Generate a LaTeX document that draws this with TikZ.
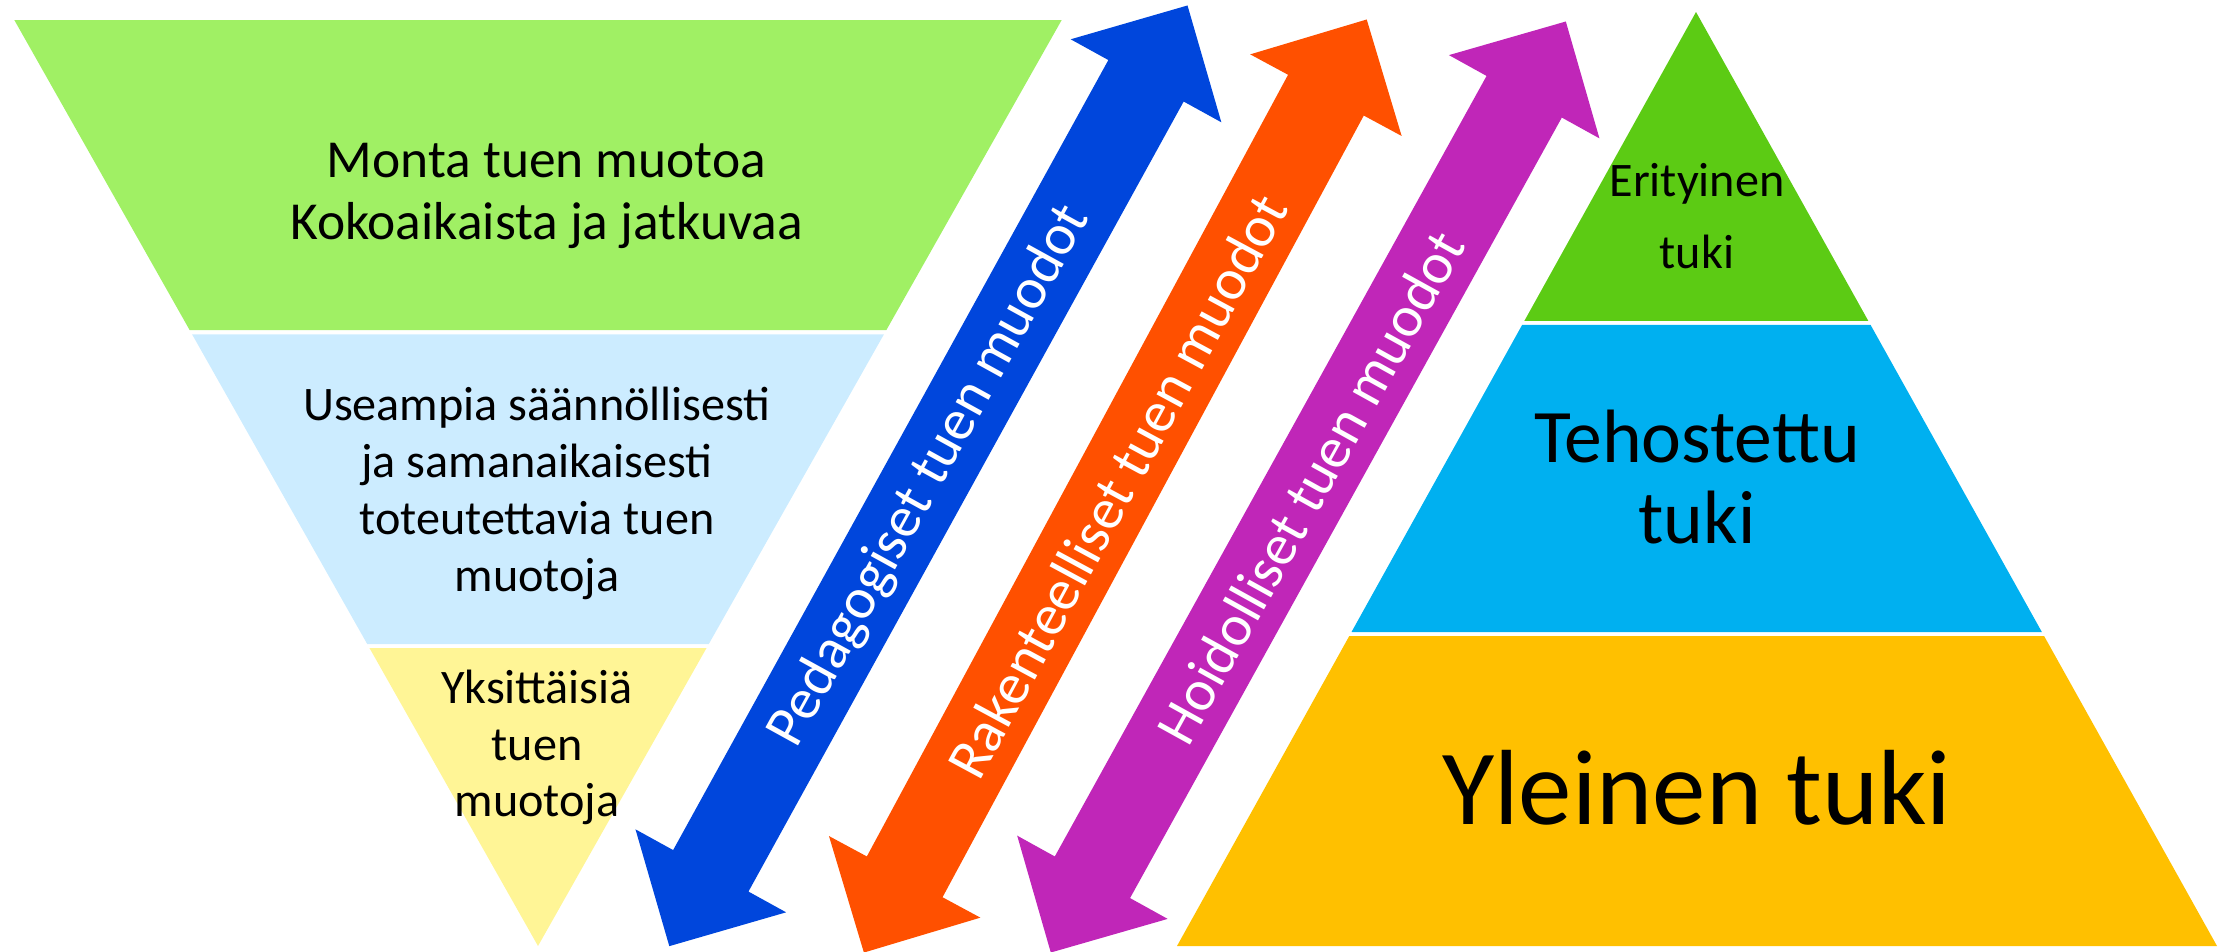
\documentclass[tikz,border=0pt]{standalone}
\usepackage{fontspec}
\setmainfont{Carlito}
\usetikzlibrary{calc}
\definecolor{lgreen}{RGB}{160,240,100}
\definecolor{lblue}{RGB}{204,236,255}
\definecolor{lyellow}{RGB}{255,245,150}
\definecolor{ablue}{RGB}{0,70,220}
\definecolor{aorange}{RGB}{255,80,0}
\definecolor{apurple}{RGB}{192,38,184}
\definecolor{pgreen}{RGB}{92,203,20}
\definecolor{pblue}{RGB}{0,176,240}
\definecolor{porange}{RGB}{255,192,0}
\newcommand{\DArrow}[4]{%
  \begin{scope}[shift={#1}, rotate=#2]
    \fill[#4] (#3,0) -- ({#3-86},86) -- ({#3-86},43) -- ({-#3+86},43) -- ({-#3+86},86)
      -- (-#3,0) -- ({-#3+86},-86) -- ({-#3+86},-43) -- ({#3-86},-43) -- ({#3-86},-86) -- cycle;
  \end{scope}}
\tikzset{
  txt/.style={anchor=base, inner sep=0pt, text=black},
  small/.style={txt, font=\fontsize{13.7pt}{16pt}\selectfont},
  mid/.style={txt, font=\fontsize{15.2pt}{18pt}\selectfont},
  big/.style={txt, font=\fontsize{21.5pt}{25pt}\selectfont},
  huge/.style={txt, font=\fontsize{30.4pt}{36pt}\selectfont},
  lbl/.style={inner sep=0pt, text=white, font=\fontsize{16.5pt}{20pt}\selectfont},
}
\begin{document}
\begin{tikzpicture}[x=0.01cm, y=-0.01cm]
\useasboundingbox (0,0) rectangle (2221,951);
% inverted triangle
\coordinate (TL) at (14.3,20);
\coordinate (TR) at (1061.7,20);
\coordinate (AP) at (538,946);
\fill[lgreen] (TL) -- (TR) -- ($(TR)!0.3348!(AP)$) -- ($(TL)!0.3348!(AP)$) -- cycle;
\fill[lblue] ($(TL)!0.3396!(AP)$) -- ($(TR)!0.3396!(AP)$) -- ($(TR)!0.6739!(AP)$) -- ($(TL)!0.6739!(AP)$) -- cycle;
\fill[lyellow] ($(TL)!0.6782!(AP)$) -- ($(TR)!0.6782!(AP)$) -- (AP) -- cycle;
% pyramid
\coordinate (PA) at (1696,12);
\coordinate (BL) at (1177,946);
\coordinate (BR) at (2217,946);
\fill[pgreen] (PA) -- ($(PA)!0.3308!(BR)$) -- ($(PA)!0.3308!(BL)$) -- cycle;
\fill[pblue] ($(PA)!0.3351!(BL)$) -- ($(PA)!0.3351!(BR)$) -- ($(PA)!0.6638!(BR)$) -- ($(PA)!0.6638!(BL)$) -- cycle;
\fill[porange] ($(PA)!0.6681!(BL)$) -- ($(PA)!0.6681!(BR)$) -- (BR) -- (BL) -- cycle;
% arrows
\DArrow{(928.4,475.8)}{61.15}{537}{ablue}
\DArrow{(1115.3,486.0)}{61.68}{530}{aorange}
\DArrow{(1308.3,487.0)}{61.05}{532}{apurple}
\node[lbl, rotate=61.15] (ped) at (930,476) {Pedagogiset tuen muodot};
\node[lbl, rotate=61.68] (rak) at (1117,486) {Rakenteelliset tuen muodot};
\node[lbl, rotate=61.05] (hoi) at (1310,487) {Hoidolliset tuen muodot};
% left texts
\node[mid] (m1) at (546.5,177.3) {Monta tuen muotoa};
\node[mid] (m2) at (546.5,239.3) {Kokoaikaista ja jatkuvaa};
\node[small] (u1) at (537,420) {Useampia säännöllisesti};
\node[small] (u2) at (537,477) {ja samanaikaisesti};
\node[small] (u3) at (537,534) {toteutettavia tuen};
\node[small] (u4) at (537,591) {muotoja};
\node[small] (y1) at (537,703.3) {Yksittäisiä};
\node[small] (y2) at (537,760) {tuen};
\node[small] (y3) at (537,816.7) {muotoja};
% pyramid texts
\node[small] (e1) at (1697,196) {Erityinen};
\node[small] (e2) at (1697,268) {tuki};
\node[big] (t1) at (1697,462) {Tehostettu};
\node[big] (t2) at (1697,543) {tuki};
\node[huge] (yl) at (1697,824) {Yleinen tuki};
\end{tikzpicture}
\end{document}
